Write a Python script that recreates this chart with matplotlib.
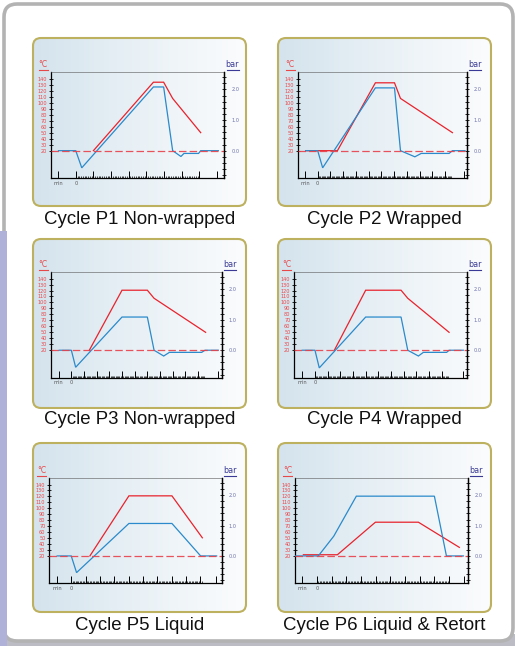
import numpy as np
import matplotlib.pyplot as plt
from matplotlib.patches import FancyBboxPatch, Rectangle
from matplotlib.colors import LinearSegmentedColormap
from matplotlib.ticker import FixedLocator

W, H = 515, 646

titles = ["Cycle P1 Non-wrapped", "Cycle P2 Wrapped",
          "Cycle P3 Non-wrapped", "Cycle P4 Wrapped",
          "Cycle P5 Liquid", "Cycle P6 Liquid & Retort"]

temp_ticks = list(range(20, 150, 10))
bar_ticks = [0.0, 1.0, 2.0]
bar_minor = [round(v, 1) for v in np.arange(-0.8, 2.5, 0.2)]

# temperature (red) and pressure (blue) curves, minutes on x
p1_temp_x = [10, 44, 49.8, 54.9, 70.8]
p1_temp_y = [20, 134, 134, 107, 50]
p1_bar_x = [-9.8, 0, 3.4, 44, 49.8, 54.9, 59.6, 61.3, 69.6, 70.8, 80.8]
p1_bar_y = [0, 0, -0.56, 2.08, 2.08, 0, -0.19, -0.09, -0.09, 0, 0]

p2_temp_x = [-9.5, 15.5, 45.3, 60.3, 65, 105.8]
p2_temp_y = [20, 20, 133, 133, 107, 50]
p2_bar_x = [-9.5, 0, 3.9, 45.3, 60.3, 65, 76.3, 81.3, 103.2, 105.8, 115.7]
p2_bar_y = [0, 0, -0.56, 2.05, 2.05, 0, -0.2, -0.09, -0.09, 0, 0]

p3_temp_x = [14.2, 40, 60, 65.3, 106]
p3_temp_y = [20, 120.5, 120.5, 107, 50]
p3_bar_x = [-9.5, 0, 3.4, 40, 60, 65.3, 72.9, 77.4, 102.9, 105.5, 116]
p3_bar_y = [0, 0, -0.56, 1.09, 1.09, 0, -0.19, -0.07, -0.07, 0, 0]

p4_temp_x = [15.3, 40, 67.9, 73.2, 105.8]
p4_temp_y = [20, 120.5, 120.5, 107, 50]
p4_bar_x = [-10, 0, 3.4, 40, 67.9, 73.2, 81.6, 85.5, 103.9, 105.8, 117]
p4_bar_y = [0, 0, -0.58, 1.09, 1.09, 0, -0.19, -0.07, -0.07, 0, 0]

p5_temp_x = [13, 40.2, 70.2, 91.4]
p5_temp_y = [20, 121, 121, 50.5]
p5_bar_x = [-9.8, 0, 3.7, 40.2, 70.2, 90.2, 101.4]
p5_bar_y = [0, 0, -0.55, 1.07, 1.07, 0, 0]

p6_temp_x = [-9.3, 13.9, 39.8, 69.1, 97]
p6_temp_y = [22, 22, 76.7, 76.7, 34.4]
p6_bar_x = [-15, 0.9, 11.4, 26.8, 80, 88.2, 99.8]
p6_bar_y = [0, 0, 0.65, 1.97, 1.97, 0, 0]

RED = '#e8232d'
BLUE = '#2a8acb'
RTXT = '#e8474a'
BTXT = '#6d70aa'
OLIVE = '#bdb05e'

# layout (pixels): panel box, axes box, x range, last major, minor end, end tick
panels = [
    dict(box=(33, 38, 246, 206), ax=(50.7, 72.3, 224, 178.3), xl=(-14.2, 84), maj=70, mnr=70, end=80,
         tx=p1_temp_x, ty=p1_temp_y, bx=p1_bar_x, by=p1_bar_y, cap=219),
    dict(box=(278, 38, 491, 206), ax=(297.7, 72.3, 466.7, 178.3), xl=(-15.7, 117), maj=100, mnr=105, end=115,
         tx=p2_temp_x, ty=p2_temp_y, bx=p2_bar_x, by=p2_bar_y, cap=219),
    dict(box=(33, 239, 246, 408), ax=(50.7, 272.3, 221.7, 377.7), xl=(-16.3, 118.7), maj=100, mnr=105, end=116,
         tx=p3_temp_x, ty=p3_temp_y, bx=p3_bar_x, by=p3_bar_y, cap=420),
    dict(box=(278, 239, 491, 408), ax=(294.3, 272.3, 466.7, 377.7), xl=(-16.3, 119.7), maj=100, mnr=105, end=117,
         tx=p4_temp_x, ty=p4_temp_y, bx=p4_bar_x, by=p4_bar_y, cap=420),
    dict(box=(33, 443, 246, 612), ax=(49.3, 478.3, 221.7, 583.3), xl=(-15.3, 104.9), maj=90, mnr=91, end=101,
         tx=p5_temp_x, ty=p5_temp_y, bx=p5_bar_x, by=p5_bar_y, cap=625),
    dict(box=(278, 443, 491, 612), ax=(295, 478.3, 467.7, 583.3), xl=(-15, 102.7), maj=90, mnr=90, end=100,
         tx=p6_temp_x, ty=p6_temp_y, bx=p6_bar_x, by=p6_bar_y, cap=625),
]

TLIM = (-26, 150.5)
BLIM = ((TLIM[0] - 20) / 51.0, (TLIM[1] - 20) / 51.0)

fig = plt.figure(figsize=(W / 100, H / 100), dpi=100)
fig.patch.set_facecolor('white')

bg = fig.add_axes([0, 0, 1, 1])
bg.axis('off')

# outer card
bg.add_patch(Rectangle((0, 634), W, 12, fc='#bcbcc4', ec='none', zorder=0))
card = FancyBboxPatch((4, 4), 509, 637, boxstyle="round,pad=0,rounding_size=13",
                      fc='white', ec='#b3b3b3', lw=2.6, zorder=1)
bg.add_patch(card)
bg.add_patch(Rectangle((0, 231), 6.5, H - 231, fc='#b0b1d9', ec='none', zorder=1.5))

grad_cm = LinearSegmentedColormap.from_list('pg', ['#d4e3ed', '#e9f1f6', '#fbfcfd'])
grad = np.linspace(0, 1, 256).reshape(1, -1)

for p in panels:
    x0, y0, x1, y1 = p['box']
    box = FancyBboxPatch((x0, y0), x1 - x0, y1 - y0, boxstyle="round,pad=0,rounding_size=8",
                         fc='none', ec=OLIVE, lw=1.5, zorder=3)
    bg.add_patch(box)
    im = bg.imshow(grad, cmap=grad_cm, extent=(x0, x1, y1, y0), aspect='auto', zorder=2)
    im.set_clip_path(box)

    bg.text((x0 + x1) / 2, p['cap'], titles[panels.index(p)], ha='center', va='center',
            fontsize=13.4, family='Liberation Sans', color='#111111', zorder=4)

    l, t, r, b = p['ax']
    # unit labels
    bg.text(l - 7.5, t - 3.5, '°C', color=RTXT, fontsize=5.5, ha='center', va='bottom', zorder=4)
    bg.plot([l - 12, l - 3], [t - 2.5, t - 2.5], color=RTXT, lw=0.8, zorder=4)
    bg.text(r + 8.5, t - 3.5, 'bar', color='#3a3a96', fontsize=5.8, ha='center', va='bottom', zorder=4)
    bg.plot([r + 2.5, r + 14.5], [t - 2.5, t - 2.5], color='#3a3a96', lw=0.8, zorder=4)

    ax = fig.add_axes([l / W, 1 - b / H, (r - l) / W, (b - t) / H])
    ax.set_facecolor('none')
    ax.set_xlim(*p['xl'])
    ax.set_ylim(*TLIM)
    ax2 = ax.twinx()
    ax2.set_ylim(*BLIM)

    ax.plot(p['tx'], p['ty'], color=RED, lw=0.9, solid_joinstyle='miter')
    ax2.plot(p['bx'], p['by'], color=BLUE, lw=0.9, solid_joinstyle='miter')
    ax2.axhline(0, color='#e8404a', lw=0.9, dashes=(6, 2.5), alpha=0.9)

    for s in ['left', 'right', 'bottom']:
        ax.spines[s].set_linewidth(0.9)
    ax.spines['top'].set_linewidth(0.4)
    ax.spines['top'].set_color('#555555')
    for s in ['left', 'top', 'bottom']:
        ax2.spines[s].set_visible(False)
    ax2.spines['right'].set_linewidth(0.9)

    ax.set_yticks(temp_ticks)
    ax.set_yticklabels([str(v) for v in temp_ticks])
    ax.tick_params(axis='y', direction='inout', length=2.5, width=0.6,
                   labelsize=3.6, labelcolor=RTXT, pad=1.5)

    xmaj = [-10] + list(range(0, p['maj'] + 1, 10)) + [p['end']]
    ax.set_xticks(xmaj)
    ax.set_xticklabels(['min', '0'] + [''] * (len(xmaj) - 2))
    ax.xaxis.set_minor_locator(FixedLocator(np.arange(0, p['mnr'] + 0.1, 1)))
    ax.tick_params(axis='x', which='major', direction='in', length=5, width=0.7,
                   labelsize=3.6, labelcolor='#555555', pad=2)
    ax.tick_params(axis='x', which='minor', direction='in', length=1.8, width=0.5)

    ax2.set_yticks(bar_ticks)
    ax2.set_yticklabels(['0.0', '1.0', '2.0'])
    ax2.yaxis.set_minor_locator(FixedLocator(bar_minor))
    ax2.tick_params(axis='y', which='both', direction='inout', length=2.5, width=0.6,
                    labelsize=3.6, labelcolor=BTXT, pad=4)

bg.set_xlim(0, W)
bg.set_ylim(H, 0)

fig.savefig('out.png', dpi=100)
